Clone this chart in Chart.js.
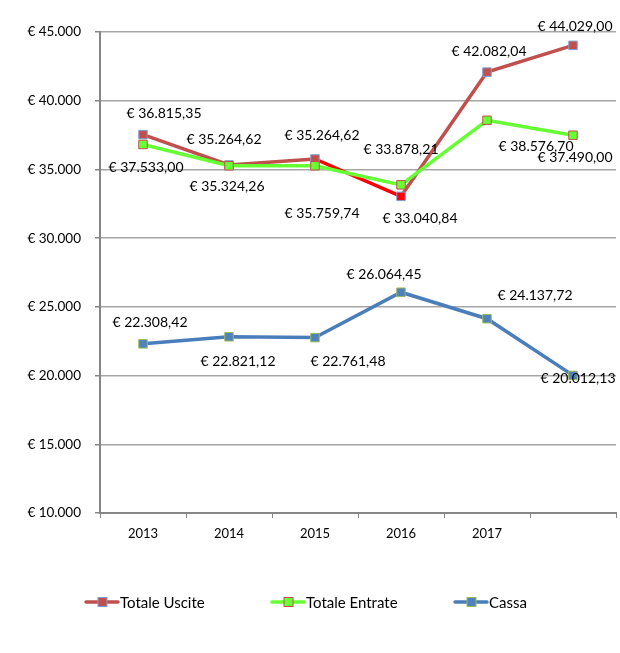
<!DOCTYPE html>
<html>
<head>
<meta charset="utf-8">
<script src="https://cdn.jsdelivr.net/npm/chart.js@4.4.1/dist/chart.umd.min.js"></script>
<style>
html,body{margin:0;padding:0;background:#fff;}
#wrap{width:620px;height:653px;}
</style>
</head>
<body>
<div id="wrap"><canvas id="chart" width="620" height="653"></canvas></div>
<script>
(function () {

// ---- data ----
const years = ['2013', '2014', '2015', '2016', '2017', ''];
const totaleUscite = [37533.00, 35324.26, 35759.74, 33040.84, 42082.04, 44029.00];
const totaleEntrate = [36815.35, 35264.62, 35264.62, 33878.21, 38576.70, 37490.00];
const cassa = [22308.42, 22821.12, 22761.48, 26064.45, 24137.72, 20012.13];
const yTicks = [10000, 15000, 20000, 25000, 30000, 35000, 40000, 45000];

// label offsets (pixels from the point), per series
const offUscite = [[3, 33], [-2, 22], [7, 54], [19, 22], [2, -21], [2, -19]];
const offEntrate = [[21, -31], [-5, -26], [7, -30], [0, -35], [49, 26], [2, 22]];
const offCassa = [[7, -21], [9, 25], [33, 24], [-17, -18], [48, -23], [5, 3]];

const FONT = 'Lato, "Open Sans", sans-serif';

function fmtInt(n) {
  return String(Math.round(n)).replace(/\B(?=(\d{3})+(?!\d))/g, '.');
}
function fmtEuro(v) {
  const parts = v.toFixed(2).split('.');
  return '€ ' + parts[0].replace(/\B(?=(\d{3})+(?!\d))/g, '.') + ',' + parts[1];
}

/* ----------- data labels ----------- */
const dataLabels = {
  id: 'dataLabels',
  afterDatasetsDraw(chart, args, opts) {
    const ctx = chart.ctx;
    ctx.save();
    ctx.font = '14px ' + FONT;
    ctx.fillStyle = '#000';
    ctx.textAlign = 'center';
    ctx.textBaseline = 'middle';
    chart.data.datasets.forEach((ds, i) => {
      const meta = chart.getDatasetMeta(i);
      const offs = opts.offsets[i];
      meta.data.forEach((pt, j) => {
        ctx.fillText(fmtEuro(ds.data[j]), pt.x + offs[j][0], pt.y + offs[j][1]);
      });
    });
    ctx.restore();
  }
};

/* ----------- legend at the bottom ----------- */
const bottomLegend = {
  id: 'bottomLegend',
  afterDraw(chart, args, opts) {
    const ctx = chart.ctx;
    ctx.save();
    const y = opts.y;
    chart.data.datasets.forEach((ds, i) => {
      const x0 = opts.xs[i];
      ctx.strokeStyle = ds.borderColor;
      ctx.lineWidth = 3.5;
      ctx.lineCap = 'round';
      ctx.beginPath();
      ctx.moveTo(x0, y);
      ctx.lineTo(x0 + 32, y);
      ctx.stroke();
      const fill = Array.isArray(ds.pointBackgroundColor) ? ds.pointBackgroundColor[0] : ds.pointBackgroundColor;
      ctx.fillStyle = fill;
      ctx.fillRect(x0 + 12, y - 4.5, 9, 9);
      ctx.strokeStyle = ds.pointBorderColor;
      ctx.lineWidth = 1;
      ctx.strokeRect(x0 + 12, y - 4.5, 9, 9);
      ctx.fillStyle = '#000';
      ctx.font = '15px ' + FONT;
      ctx.textAlign = 'left';
      ctx.textBaseline = 'middle';
      ctx.fillText(ds.label, x0 + 34, y + 1);
    });
    ctx.restore();
  }
};

const ctx = document.getElementById('chart').getContext('2d');

new Chart(ctx, {
  type: 'line',
  data: {
    labels: years,
    datasets: [
      {
        label: 'Totale Uscite',
        data: totaleUscite,
        borderColor: '#C0504D',
        borderWidth: 3.5,
        segment: {
          borderColor: c => (c.p0DataIndex === 2 ? '#FF0000' : undefined)
        },
        pointStyle: 'rect',
        pointRadius: 6,
        pointBackgroundColor: ['#C0504D', '#C0504D', '#C0504D', '#FF0000', '#C0504D', '#C0504D'],
        pointBorderColor: '#7F9FD3',
        pointBorderWidth: 1,
        tension: 0,
        order: 3
      },
      {
        label: 'Totale Entrate',
        data: totaleEntrate,
        borderColor: '#66FF33',
        borderWidth: 3.5,
        pointStyle: 'rect',
        pointRadius: 6,
        pointBackgroundColor: '#66FF33',
        pointBorderColor: '#C0504D',
        pointBorderWidth: 1,
        tension: 0,
        order: 2
      },
      {
        label: 'Cassa',
        data: cassa,
        borderColor: '#4A7EBB',
        borderWidth: 3.5,
        pointStyle: 'rect',
        pointRadius: 6,
        pointBackgroundColor: '#4F81BD',
        pointBorderColor: '#9BBB59',
        pointBorderWidth: 1,
        tension: 0,
        order: 1
      }
    ]
  },
  options: {
    responsive: false,
    animation: false,
    layout: { autoPadding: false, padding: { left: 0, top: 32, right: 4, bottom: 100 } },
    scales: {
      x: {
        offset: true,
        grid: {
          offset: true,
          drawOnChartArea: false,
          drawTicks: true,
          tickLength: 5,
          color: '#868686',
          lineWidth: 1
        },
        border: { color: '#868686', width: 2 },
        ticks: {
          color: '#000',
          font: { family: FONT, size: 13 },
          padding: 8,
          maxRotation: 0,
          autoSkip: false
        },
        afterFit(scale) { scale.height = 40; }
      },
      y: {
        min: 10000,
        max: 45000,
        afterBuildTicks(scale) { scale.ticks = yTicks.map(v => ({ value: v })); },
        grid: {
          color: '#A6A6A6',
          lineWidth: 1.5,
          tickLength: 5,
          tickColor: '#868686'
        },
        border: { color: '#868686', width: 2 },
        ticks: {
          color: '#000',
          font: { family: FONT, size: 13.5 },
          padding: 14,
          callback: v => '€ ' + fmtInt(v)
        },
        afterFit(scale) { scale.width = 100; }
      }
    },
    plugins: {
      legend: { display: false },
      tooltip: { enabled: false },
      dataLabels: { offsets: [offUscite, offEntrate, offCassa] },
      bottomLegend: { y: 602, xs: [86, 272, 455] }
    }
  },
  plugins: [dataLabels, bottomLegend]
});

})();
</script>
</body>
</html>
